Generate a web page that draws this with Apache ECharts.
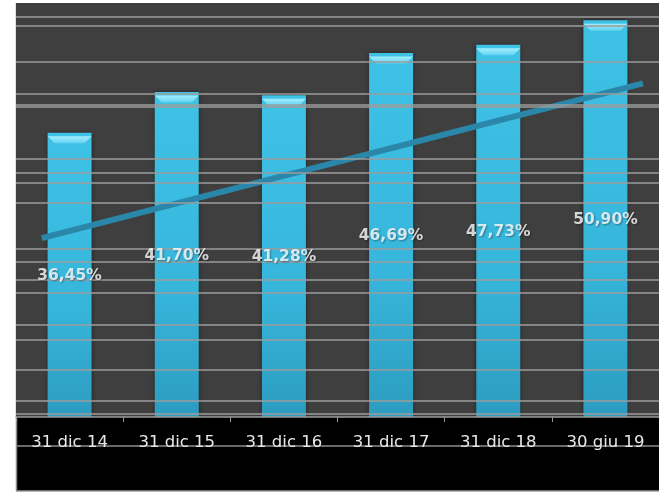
<!DOCTYPE html>
<html>
<head>
<meta charset="utf-8">
<script src="https://cdn.jsdelivr.net/npm/echarts@6/dist/echarts.min.js"></script>
<style>
  html, body { margin: 0; padding: 0; background: #ffffff; }
  #chart { width: 659px; height: 494px; }
</style>
</head>
<body>
<div id="chart"></div>
<script>
// Period labels along the bottom
const periods = ['31 dic 14', '31 dic 15', '31 dic 16', '31 dic 17', '31 dic 18', '30 giu 19'];
// Ratio per period, in percent
const ratios = [36.45, 41.70, 41.28, 46.69, 47.73, 50.90];
// Trend line end points: position along the periods (0 = first) and level in percent
const trendPos = [-0.26, 5.35];
const trendLevel = [22.95, 42.8];
// Horizontal rule levels behind the bars, in percent
const gridLevels = [51.28, 50.13, 45.51, 41.41, 40.0, 39.74, 33.08, 31.28, 30.0, 27.44,
                    21.54, 19.87, 17.56, 15.9, 11.79, 9.87, 6.03, 2.05, 0.38];

const fmtPct = v => v.toFixed(2).replace('.', ',') + '%';

const chart = echarts.init(document.getElementById('chart'), null, { renderer: 'canvas' });

chart.setOption({
  backgroundColor: '#ffffff',
  animation: false,
  grid: {
    left: 16, right: 0, top: 3, bottom: 77,
    show: true, backgroundColor: '#3f3f3f', borderWidth: 0
  },
  graphic: [
    { type: 'rect', z: -10, shape: { x: 16, y: 417, width: 643, height: 74 }, style: { fill: '#000000' } },
    { type: 'line', z: -9, shape: { x1: 16, y1: 446, x2: 659, y2: 446 }, style: { stroke: '#8c8c8c', lineWidth: 1.5 } },
    { type: 'line', z: -9, shape: { x1: 16, y1: 491, x2: 659, y2: 491 }, style: { stroke: '#9a9a9a', lineWidth: 1.5 } },
    { type: 'line', z: -9, shape: { x1: 16.5, y1: 3, x2: 16.5, y2: 491 }, style: { stroke: '#8a8a8a', lineWidth: 1.5 } }
  ],
  xAxis: [
    {
      type: 'category',
      data: periods,
      boundaryGap: true,
      z: 5,
      axisLine: { show: true, lineStyle: { color: '#9a9a9a', width: 1.5 } },
      axisTick: { show: true, length: 5, lineStyle: { color: '#9a9a9a' } },
      axisLabel: {
        margin: 17,
        color: '#e8e8e8',
        fontSize: 16.5,
        fontFamily: 'DejaVu Sans'
      },
      splitLine: { show: false }
    },
    { type: 'value', min: -0.5, max: 5.5, show: false }
  ],
  yAxis: [
    { type: 'value', min: 0, max: 53.1, show: false, splitLine: { show: false } },
    { type: 'value', min: 0, max: 107, show: false, splitLine: { show: false } }
  ],
  series: [
    {
      name: 'rules',
      type: 'line',
      data: periods.map(() => null),
      z: 1,
      symbol: 'none',
      silent: true,
      markLine: {
        silent: true,
        symbol: 'none',
        label: { show: false },
        lineStyle: { color: '#9c9c9c', width: 1.5, type: 'solid' },
        data: gridLevels.map(v => ({ yAxis: v }))
      }
    },
    {
      name: 'ratio',
      type: 'bar',
      data: ratios,
      barWidth: 44,
      z: 2,
      itemStyle: {
        color: new echarts.graphic.LinearGradient(0, 0, 0, 1, [
          { offset: 0, color: '#3ec2e6' },
          { offset: 0.6, color: '#37b6dc' },
          { offset: 1, color: '#2c9cc0' }
        ]),
        shadowColor: 'rgba(0,0,0,0.55)',
        shadowBlur: 5
      }
    },
    {
      name: 'bevel',
      type: 'pictorialBar',
      data: ratios,
      z: 3,
      silent: true,
      symbol: 'path://M0,0 L44,0 L37,7 L7,7 Z',
      symbolSize: [44, 7],
      symbolPosition: 'end',
      symbolOffset: [0, '50%'],
      itemStyle: {
        color: new echarts.graphic.LinearGradient(0, 0, 0, 1, [
          { offset: 0, color: '#a4eefc' },
          { offset: 1, color: '#62d3f2' }
        ])
      }
    },
    {
      name: 'trend',
      type: 'line',
      xAxisIndex: 1,
      yAxisIndex: 0,
      data: [[trendPos[0], trendLevel[0]], [trendPos[1], trendLevel[1]]],
      symbol: 'none',
      z: 4,
      lineStyle: { color: '#2b87a9', width: 6, cap: 'butt' }
    },
    {
      name: 'labels',
      type: 'scatter',
      xAxisIndex: 0,
      yAxisIndex: 1,
      data: ratios,
      symbolSize: 1,
      itemStyle: { color: 'rgba(0,0,0,0)' },
      z: 5,
      label: {
        show: true,
        position: 'inside',
        color: '#ffffff',
        textBorderWidth: 0,
        textShadowColor: 'rgba(0,0,0,0.45)',
        textShadowBlur: 2,
        textShadowOffsetX: 1,
        textShadowOffsetY: 1,
        fontSize: 15.5,
        fontWeight: 'bold',
        fontFamily: 'DejaVu Sans',
        formatter: p => fmtPct(p.value)
      }
    }
  ]
});
</script>
</body>
</html>
